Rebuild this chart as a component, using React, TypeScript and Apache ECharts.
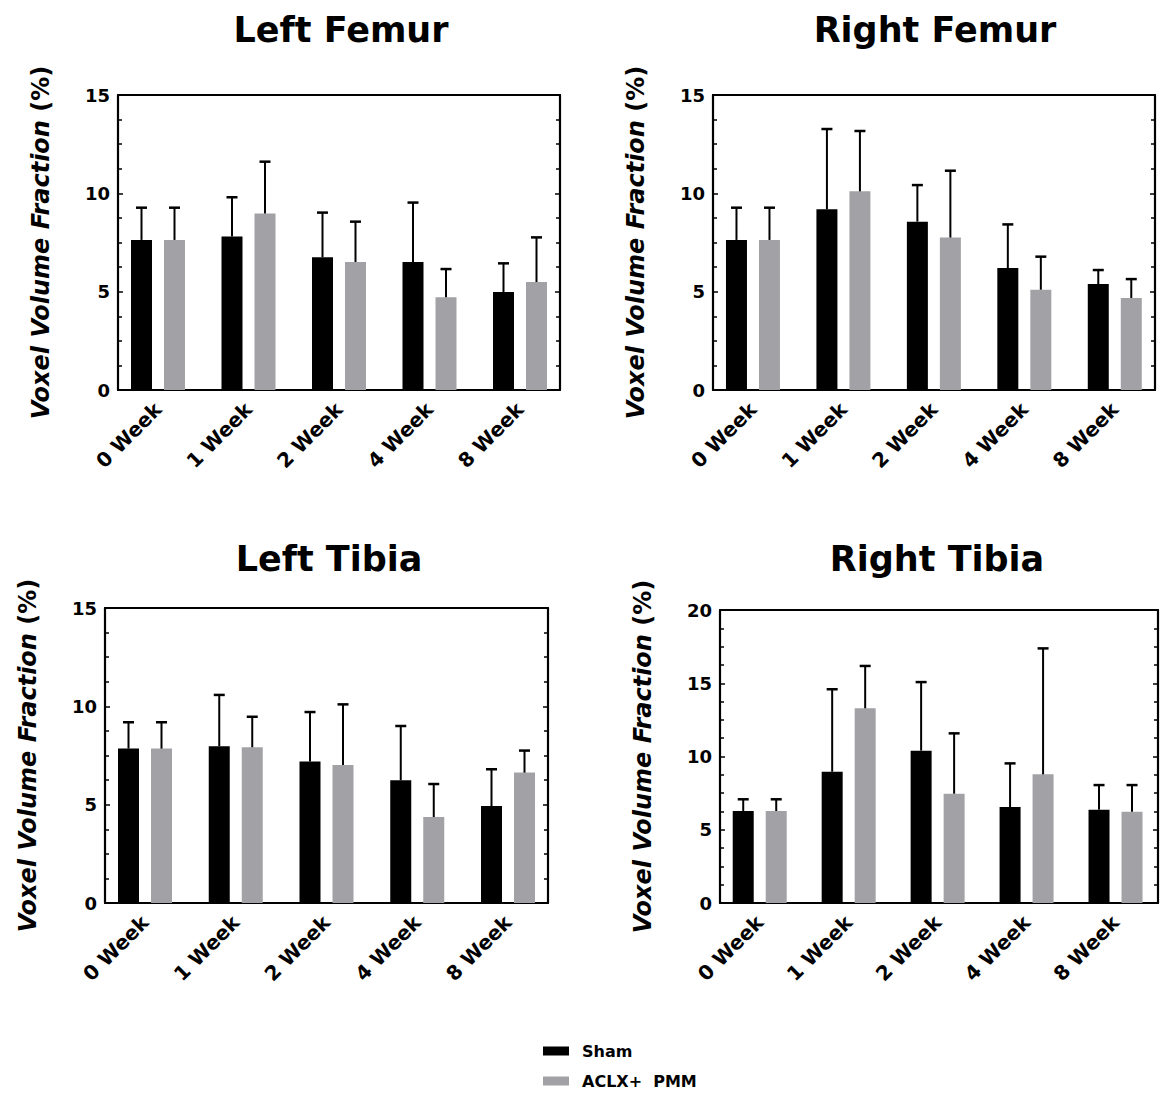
import React, { useEffect, useRef } from 'react';
import * as echarts from 'echarts';

// ---------- data ----------
const categories = ['0 Week', '1 Week', '2 Week', '4 Week', '8 Week'];
const seriesNames = ['Sham', 'ACLX+  PMM'];
const panelTitles = ['Left Femur', 'Right Femur', 'Left Tibia', 'Right Tibia'];
const yMaxValues = [15, 15, 15, 20];
const yTickStep = 5;
const yAxisName = 'Voxel Volume Fraction';
const yAxisUnit = '(%)';

const leftFemurSham = [7.63, 7.8, 6.75, 6.51, 4.98];
const leftFemurShamUpper = [9.27, 9.8, 9.02, 9.53, 6.44];
const leftFemurAclx = [7.63, 8.98, 6.51, 4.71, 5.49];
const leftFemurAclxUpper = [9.27, 11.61, 8.56, 6.15, 7.76];

const rightFemurSham = [7.63, 9.19, 8.56, 6.2, 5.39];
const rightFemurShamUpper = [9.27, 13.27, 10.42, 8.42, 6.1];
const rightFemurAclx = [7.63, 10.1, 7.75, 5.1, 4.68];
const rightFemurAclxUpper = [9.27, 13.17, 11.15, 6.78, 5.64];

const leftTibiaSham = [7.85, 7.97, 7.19, 6.24, 4.93];
const leftTibiaShamUpper = [9.19, 10.58, 9.71, 9.0, 6.8];
const leftTibiaAclx = [7.85, 7.92, 7.02, 4.37, 6.63];
const leftTibiaAclxUpper = [9.19, 9.47, 10.1, 6.05, 7.75];

const rightTibiaSham = [6.28, 8.96, 10.4, 6.55, 6.37];
const rightTibiaShamUpper = [7.08, 14.59, 15.08, 9.53, 8.05];
const rightTibiaAclx = [6.28, 13.29, 7.46, 8.78, 6.23];
const rightTibiaAclxUpper = [7.08, 16.18, 11.58, 17.38, 8.05];

const panelData = [
  { sham: leftFemurSham, shamUp: leftFemurShamUpper, aclx: leftFemurAclx, aclxUp: leftFemurAclxUpper },
  { sham: rightFemurSham, shamUp: rightFemurShamUpper, aclx: rightFemurAclx, aclxUp: rightFemurAclxUpper },
  { sham: leftTibiaSham, shamUp: leftTibiaShamUpper, aclx: leftTibiaAclx, aclxUp: leftTibiaAclxUpper },
  { sham: rightTibiaSham, shamUp: rightTibiaShamUpper, aclx: rightTibiaAclx, aclxUp: rightTibiaAclxUpper },
];

// ---------- layout / style ----------
const boxes = [
  { l: 118, t: 95, r: 560, b: 390, tx: 341, ty: 12 },
  { l: 713, t: 95, r: 1155, b: 390, tx: 935, ty: 12 },
  { l: 105, t: 608, r: 548, b: 903, tx: 329, ty: 541 },
  { l: 720, t: 610, r: 1158, b: 903, tx: 937, ty: 541 },
];
const FONT = 'DejaVu Sans';
const INSET = 40;
const BAR_W = 21;
const BAR_GAP_PX = 12;
const BAR_OFF = (BAR_W + BAR_GAP_PX) / 2;
const COLORS = ['#000000', '#a2a2a6'];

function buildOption() {
  const grid: any[] = [];
  const xAxis: any[] = [];
  const yAxis: any[] = [];
  const series: any[] = [];
  const title: any[] = [];

  boxes.forEach((bx, i) => {
    const w = bx.r - bx.l;
    const h = bx.b - bx.t;
    const spacing = (w - 2 * INSET) / (categories.length - 1);
    const max = yMaxValues[i];
    grid.push({ left: bx.l, top: bx.t, width: w, height: h, containLabel: false });
    grid.push({ left: bx.l + INSET - spacing / 2, top: bx.t, width: spacing * categories.length, height: h, containLabel: false });
    const fg = 2 * i;
    const dg = 2 * i + 1;
    const lineStyle = { color: '#000', width: 2.2 };
    const frameLine = { show: true, onZero: false, lineStyle };
    xAxis.push({
      gridIndex: fg, type: 'value', position: 'bottom', min: 0, max: 1,
      axisLine: frameLine, axisTick: { show: false }, axisLabel: { show: false }, splitLine: { show: false },
    });
    xAxis.push({
      gridIndex: fg, type: 'value', position: 'top', min: 0, max: 1,
      axisLine: frameLine, axisTick: { show: false }, axisLabel: { show: false }, splitLine: { show: false },
    });
    xAxis.push({
      gridIndex: dg, type: 'category', data: categories, position: 'bottom',
      axisLine: { show: false, onZero: false }, axisTick: { show: false }, splitLine: { show: false },
      axisLabel: { rotate: 45, margin: 16, color: '#000', fontFamily: FONT, fontWeight: 'bold', fontSize: 20, interval: 0 },
    });
    const tickCommon = {
      axisTick: { show: true, inside: true, length: 5, lineStyle: { color: '#000', width: 1.5 } },
      minorTick: { show: true, splitNumber: 4, length: 4, lineStyle: { color: '#000', width: 1.5 } },
      splitLine: { show: false },
      minorSplitLine: { show: false },
    };
    yAxis.push({
      gridIndex: fg, type: 'value', position: 'left', min: 0, max, interval: yTickStep,
      axisLine: frameLine,
      ...tickCommon,
      axisLabel: { color: '#000', fontFamily: FONT, fontWeight: 'bold', fontSize: 18, margin: 8 },
      name: `{a|${yAxisName}} {b|${yAxisUnit}}`,
      nameLocation: 'middle', nameRotate: 90, nameGap: 65,
      nameTextStyle: {
        color: '#000', fontFamily: FONT, fontWeight: 'bold', fontSize: 24,
        rich: {
          a: { fontFamily: FONT, fontWeight: 'bold', fontStyle: 'italic', fontSize: 24, color: '#000' },
          b: { fontFamily: FONT, fontWeight: 'bold', fontSize: 24, color: '#000' },
        },
      },
    });
    yAxis.push({
      gridIndex: fg, type: 'value', position: 'right', min: 0, max, interval: yTickStep,
      axisLine: frameLine,
      ...tickCommon,
      axisLabel: { show: false },
    });
    yAxis.push({ gridIndex: dg, type: 'value', min: 0, max, interval: yTickStep, show: false });

    const xi = 3 * i + 2;
    const yi = 3 * i + 2;
    const d = panelData[i];
    const means = [d.sham, d.aclx];
    const uppers = [d.shamUp, d.aclxUp];
    [0, 1].forEach((s) => {
      series.push({
        type: 'bar', name: seriesNames[s], xAxisIndex: xi, yAxisIndex: yi,
        data: means[s], barWidth: BAR_W, barGap: `${(BAR_GAP_PX / BAR_W) * 100}%`,
        itemStyle: { color: COLORS[s] }, z: 2,
      });
    });
    [0, 1].forEach((s) => {
      const off = s === 0 ? -BAR_OFF : BAR_OFF;
      series.push({
        type: 'custom', name: `${seriesNames[s]} SD`, xAxisIndex: xi, yAxisIndex: yi, z: 3,
        data: categories.map((_, k) => [k, means[s][k], uppers[s][k]]),
        renderItem: (params: any, api: any) => {
          const p0 = api.coord([api.value(0), api.value(1)]);
          const p1 = api.coord([api.value(0), api.value(2)]);
          const x = p0[0] + off;
          return {
            type: 'group',
            children: [
              { type: 'line', shape: { x1: x, y1: p0[1], x2: x, y2: p1[1] }, style: { stroke: '#000', lineWidth: 2 } },
              { type: 'line', shape: { x1: x - 5.5, y1: p1[1], x2: x + 5.5, y2: p1[1] }, style: { stroke: '#000', lineWidth: 2.5 } },
            ],
          };
        },
      });
    });

    title.push({
      text: panelTitles[i], left: bx.tx, top: bx.ty, textAlign: 'center', padding: 0,
      textStyle: { color: '#000', fontFamily: FONT, fontWeight: 'bold', fontSize: 35 },
    });
  });

  return {
    animation: false,
    backgroundColor: '#ffffff',
    title,
    grid,
    xAxis,
    yAxis,
    series,
    legend: {
      data: seriesNames,
      orient: 'vertical',
      left: 543,
      top: 1043,
      padding: 0,
      itemWidth: 26,
      itemHeight: 9,
      itemGap: 14,
      icon: 'rect',
      selectedMode: false,
      textStyle: { color: '#000', fontFamily: FONT, fontWeight: 'bold', fontSize: 16, lineHeight: 16, padding: [0, 0, 0, 8] },
    },
  };
}

export default function App() {
  const ref = useRef<HTMLDivElement>(null);
  useEffect(() => {
    if (!ref.current) return;
    const chart = echarts.init(ref.current, undefined, { renderer: 'svg' });
    chart.setOption(buildOption() as any);
    return () => chart.dispose();
  }, []);
  return (
    <div
      ref={ref}
      style={{ position: 'absolute', left: 0, top: 0, width: 1160, height: 1093, background: '#fff' }}
    />
  );
}
